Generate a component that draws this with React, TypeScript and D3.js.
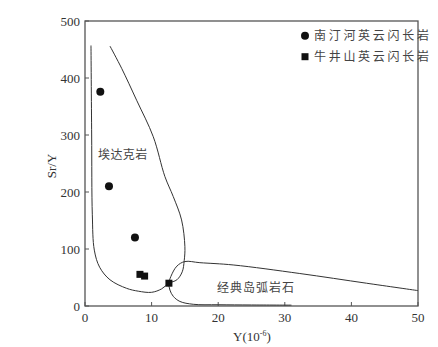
import React from "react";
import * as d3 from "d3";

// sample groups: [Y, Sr/Y]
const nantingheY = [2.3, 3.6, 7.5];
const nantingheSrY = [376, 210, 120];
const niujingshanY = [8.25, 8.95, 12.6];
const niujingshanSrY = [55.5, 52.5, 40];

// field boundaries
const adakiteField: [number, number][] = [
  [3.75, 456], [5.5, 417], [7.75, 361], [10.25, 297], [12, 227], [13.25, 192],
  [14.5, 151], [15, 104], [14.9, 80], [14.6, 60], [13.8, 46], [12.6, 40],
  [11.5, 30], [10, 24], [8, 26], [6.25, 31], [3.75, 46], [2.2, 68], [1.4, 98],
  [1.1, 160], [1.0, 300], [0.9, 457],
];
const arcField: [number, number][] = [
  [50, 27], [42.25, 40], [32.25, 57], [22.25, 72], [17.25, 76], [15, 78],
  [13.8, 70], [12.9, 52], [12.6, 40], [12.75, 28], [13.25, 17], [14.25, 8],
  [16.25, 3], [20, 2.2], [25, 1.8], [31, 1.5],
];

const xTicks = [0, 10, 20, 30, 40, 50];
const yTicks = [0, 100, 200, 300, 400, 500];
const legendLabels = ["南汀河英云闪长岩", "牛井山英云闪长岩"];
const fieldLabels = ["埃达克岩", "经典岛弧岩石"];

const W = 438;
const H = 347;
const x = d3.scaleLinear().domain([0, 50]).range([85, 418]);
const y = d3.scaleLinear().domain([0, 500]).range([306, 21]);

const line = d3
  .line<[number, number]>()
  .x((d) => x(d[0]))
  .y((d) => y(d[1]))
  .curve(d3.curveCatmullRom.alpha(0.5));

const serif = "'Liberation Serif', 'DejaVu Serif', serif";
const cjk = "'Noto Sans CJK SC', sans-serif";

export default function App() {
  return (
    <svg
      width={W}
      height={H}
      style={{ position: "absolute", left: 0, top: 0, background: "#fff" }}
    >
      {/* frame */}
      <rect
        x={x(0)}
        y={y(500)}
        width={x(50) - x(0)}
        height={y(0) - y(500)}
        fill="none"
        stroke="#555"
        strokeWidth={1.3}
      />
      {/* ticks */}
      {xTicks.map((t) => (
        <g key={"x" + t}>
          <line x1={x(t)} x2={x(t)} y1={y(0)} y2={y(0) - 4} stroke="#555" />
          <text
            x={x(t)}
            y={y(0) + 16}
            textAnchor="middle"
            fontFamily={serif}
            fontSize={13}
            fill="#333"
          >
            {t}
          </text>
        </g>
      ))}
      {yTicks.map((t) => (
        <g key={"y" + t}>
          <line x1={x(0)} x2={x(0) + 4} y1={y(t)} y2={y(t)} stroke="#555" />
          <text
            x={x(0) - 5}
            y={y(t) + 4.5}
            textAnchor="end"
            fontFamily={serif}
            fontSize={13}
            fill="#333"
          >
            {t}
          </text>
        </g>
      ))}
      {/* axis titles */}
      <text
        transform="translate(56,166) rotate(-90)"
        textAnchor="middle"
        fontFamily={serif}
        fontSize={13}
        fill="#333"
      >
        Sr/Y
      </text>
      <text x={233} y={341} fontFamily={serif} fontSize={13} fill="#333">
        Y(10
        <tspan dy={-5} fontSize={8}>
          -6
        </tspan>
        <tspan dy={5}>)</tspan>
      </text>

      {/* fields */}
      <path d={line(adakiteField) ?? ""} fill="none" stroke="#333" strokeWidth={1} />
      <path d={line(arcField) ?? ""} fill="none" stroke="#333" strokeWidth={1} />
      <text x={98} y={159} fontFamily={cjk} fontSize={12} fill="#444" letterSpacing={0.4}>
        {fieldLabels[0]}
      </text>
      <text x={217} y={292} fontFamily={cjk} fontSize={12} fill="#444" letterSpacing={1}>
        {fieldLabels[1]}
      </text>

      {/* samples */}
      {nantingheY.map((v, i) => (
        <circle key={"c" + i} cx={x(v)} cy={y(nantingheSrY[i])} r={4} fill="#111" />
      ))}
      {niujingshanY.map((v, i) => (
        <rect
          key={"s" + i}
          x={x(v) - 3.5}
          y={y(niujingshanSrY[i]) - 3.5}
          width={7}
          height={7}
          fill="#111"
        />
      ))}

      {/* legend */}
      <circle cx={305} cy={35.7} r={4} fill="#111" />
      <rect x={301.5} y={53.2} width={7} height={7} fill="#111" />
      {legendLabels.map((l, i) => (
        <text
          key={l}
          x={314}
          y={40 + i * 21}
          fontFamily={cjk}
          fontSize={12}
          fill="#444"
          letterSpacing={2.7}
        >
          {l}
        </text>
      ))}
    </svg>
  );
}
